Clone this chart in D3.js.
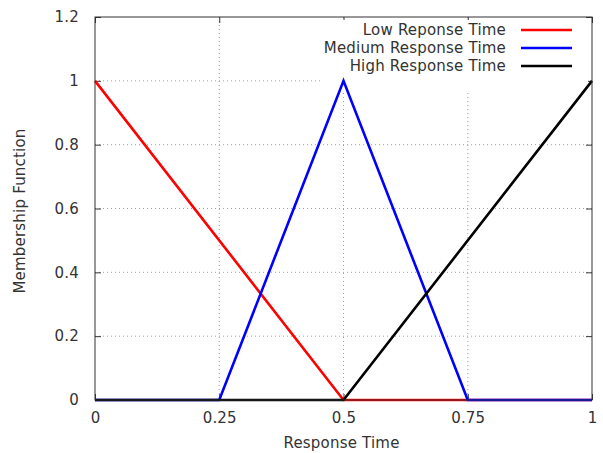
<!DOCTYPE html>
<html>
<head>
<meta charset="utf-8">
<script src="https://cdn.jsdelivr.net/npm/d3@7"></script>
<style>
  body { margin: 0; background: #fff; }
  text { font-family: "DejaVu Sans", sans-serif; fill: #333; letter-spacing: 0.2px; }
</style>
</head>
<body>
<div id="chart"></div>
<script>
// membership functions, breakpoints only
const seriesNames = ['Low Reponse Time', 'Medium Response Time', 'High Response Time'];
const seriesColors = ['#ff0000', '#0000ff', '#000000'];
const lowPts = [[0, 1], [0.5, 0], [1, 0]];
const mediumPts = [[0, 0], [0.25, 0], [0.5, 1], [0.75, 0], [1, 0]];
const highPts = [[0, 0], [0.5, 0], [1, 1]];
const xTicks = [0, 0.25, 0.5, 0.75, 1];
const yTicks = [0, 0.2, 0.4, 0.6, 0.8, 1, 1.2];

const W = 603, H = 453;
const margin = { top: 17, right: 11, bottom: 53, left: 95 };
const width = W - margin.left - margin.right;
const height = H - margin.top - margin.bottom;
const fontSize = 15;

const svg = d3.select('#chart').append('svg')
  .attr('width', W)
  .attr('height', H)
  .append('g')
  .attr('transform', `translate(${margin.left}, ${margin.top})`);

const x = d3.scaleLinear().domain([0, 1]).range([0, width]);
const y = d3.scaleLinear().domain([0, 1.2]).range([height, 0]);

// grid
svg.append('g').selectAll('line.gx')
  .data(xTicks.slice(1, -1)).enter().append('line')
  .attr('x1', d => x(d)).attr('x2', d => x(d))
  .attr('y1', 0).attr('y2', height)
  .attr('stroke', '#a0a0a0').attr('stroke-width', 1)
  .attr('stroke-dasharray', '1,3');
svg.append('g').selectAll('line.gy')
  .data(yTicks.slice(1, -1)).enter().append('line')
  .attr('y1', d => y(d)).attr('y2', d => y(d))
  .attr('x1', 0).attr('x2', width)
  .attr('stroke', '#a0a0a0').attr('stroke-width', 1)
  .attr('stroke-dasharray', '1,3');

// axes (inward ticks, mirrored)
svg.append('g').attr('transform', `translate(0, ${height})`)
  .call(d3.axisBottom(x).tickValues(xTicks).tickSizeInner(-6).tickSizeOuter(0).tickPadding(12).tickFormat(d3.format('')));
svg.append('g')
  .call(d3.axisLeft(y).tickValues(yTicks).tickSizeInner(-6).tickSizeOuter(0).tickPadding(16).tickFormat(d3.format('')));
svg.append('g')
  .call(d3.axisTop(x).tickValues(xTicks).tickSizeInner(-6).tickSizeOuter(0).tickFormat(''));
svg.append('g').attr('transform', `translate(${width}, 0)`)
  .call(d3.axisRight(y).tickValues(yTicks).tickSizeInner(-6).tickSizeOuter(0).tickFormat(''));
svg.selectAll('.domain').remove();
svg.selectAll('.tick line').attr('stroke', '#333');
svg.selectAll('.tick text').attr('font-size', fontSize).attr('fill', '#333')
  .attr('font-family', '"DejaVu Sans", sans-serif');

// legend background covers grid
const legendRight = 506;
const rowY = [30, 48, 66].map(v => v - margin.top);
svg.append('rect')
  .attr('x', 225).attr('y', 3)
  .attr('width', width - 229).attr('height', 70)
  .attr('fill', '#fff');

// series
const line = d3.line().x(d => x(d[0])).y(d => y(d[1]));
[lowPts, mediumPts, highPts].forEach((pts, i) => {
  svg.append('path')
    .datum(pts)
    .attr('d', line)
    .attr('fill', 'none')
    .attr('stroke', seriesColors[i])
    .attr('stroke-width', 2.6);
});

// border on top
svg.append('rect')
  .attr('x', 0).attr('y', 0)
  .attr('width', width).attr('height', height)
  .attr('fill', 'none').attr('stroke', '#333').attr('stroke-width', 1);

// legend
seriesNames.forEach((name, i) => {
  svg.append('text')
    .attr('x', legendRight - margin.left)
    .attr('y', rowY[i])
    .attr('dy', '0.35em')
    .attr('text-anchor', 'end')
    .attr('font-size', fontSize)
    .text(name);
  svg.append('line')
    .attr('x1', 521 - margin.left).attr('x2', 572 - margin.left)
    .attr('y1', rowY[i]).attr('y2', rowY[i])
    .attr('stroke', seriesColors[i]).attr('stroke-width', 2.6);
});

// axis labels
svg.append('text')
  .attr('x', width / 2 - 2)
  .attr('y', height + 48)
  .attr('text-anchor', 'middle')
  .attr('font-size', fontSize)
  .text('Response Time');
svg.append('text')
  .attr('transform', `translate(${20 - margin.left}, ${211 - margin.top}) rotate(-90)`)
  .attr('dy', '0.35em')
  .attr('text-anchor', 'middle')
  .attr('font-size', fontSize)
  .text('Membership Function');
</script>
</body>
</html>
